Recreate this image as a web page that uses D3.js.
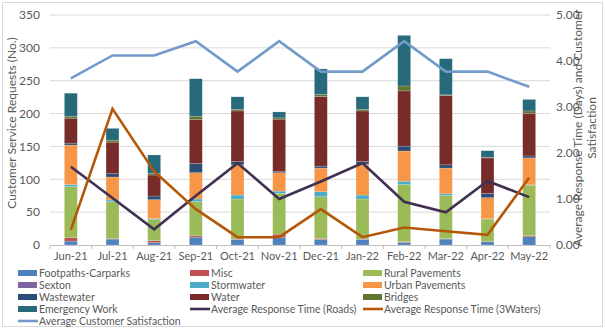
<!DOCTYPE html>
<html>
<head>
<meta charset="utf-8">
<script src="https://cdn.jsdelivr.net/npm/d3@7"></script>
<style>
  body { margin: 0; background: #fff; }
  svg text { font-family: Lato, Calibri, "Liberation Sans", Arial, sans-serif; fill: #595959; }
</style>
</head>
<body>
<svg id="chart"></svg>
<script>
// months along the bottom
const months = ['Jun-21', 'Jul-21', 'Aug-21', 'Sep-21', 'Oct-21', 'Nov-21', 'Dec-21', 'Jan-22', 'Feb-22', 'Mar-22', 'Apr-22', 'May-22'];

// request counts per category (stacked bars)
const footpaths = [6, 9, 3.5, 12, 8.5, 12, 8.5, 8.5, 4, 9, 5, 12.5];
const misc = [5, 1, 3, 2, 0.5, 4.5, 1.5, 0.5, 1, 0.5, 0.5, 1.5];
const rural = [78, 56, 32, 52, 61, 62, 63.5, 61, 87, 66, 34, 77];
const sexton = [0, 0, 0, 0, 0, 0, 0, 0, 0, 0, 0, 0];
const stormwater = [3, 2.5, 1.5, 4, 6, 3.5, 7.5, 6, 5, 2.5, 0.5, 0.5];
const urban = [60, 35, 29, 40, 46, 28, 36, 47, 46, 39, 32, 41];
const wastewater = [3, 5, 5.5, 14, 5, 1.5, 3, 4, 7.5, 5, 6.5, 3];
const water = [38, 48, 32, 67, 77, 80, 106, 77, 84, 105.5, 54, 65];
const bridges = [3, 3, 2.5, 5, 2.5, 2, 3, 2.5, 7.5, 1, 1, 3.5];
const emergency = [35, 18, 28, 57, 19, 9, 39, 19, 77, 55, 10, 17.5];

// right axis lines
const respRoads = [1.70, 1.02, 0.34, 1.07, 1.78, 1.00, 1.38, 1.78, 0.94, 0.71, 1.39, 1.04];
const resp3Waters = [0.33, 2.96, 1.60, 0.78, 0.17, 0.17, 0.78, 0.17, 0.38, 0.30, 0.22, 1.46];
const satisfaction = [3.62, 4.12, 4.12, 4.43, 3.77, 4.43, 3.77, 3.77, 4.43, 3.77, 3.77, 3.44];

const leftTicks = [0, 50, 100, 150, 200, 250, 300, 350];
const rightTicks = [0, 1, 2, 3, 4, 5];

const barSeries = [
    { name: 'Footpaths-Carparks', values: footpaths, color: '#4F81BD' },
    { name: 'Misc', values: misc, color: '#C0504D' },
    { name: 'Rural Pavements', values: rural, color: '#9BBB59' },
    { name: 'Sexton', values: sexton, color: '#8064A2' },
    { name: 'Stormwater', values: stormwater, color: '#4BACC6' },
    { name: 'Urban Pavements', values: urban, color: '#F79646' },
    { name: 'Wastewater', values: wastewater, color: '#2C4D75' },
    { name: 'Water', values: water, color: '#772C2A' },
    { name: 'Bridges', values: bridges, color: '#5F7530' },
    { name: 'Emergency Work', values: emergency, color: '#276A7C' }
];
const lineSeries = [
    { name: 'Average Response Time (Roads)', values: respRoads, color: '#403152' },
    { name: 'Average Response Time (3Waters)', values: resp3Waters, color: '#B65708' },
    { name: 'Average Customer Satisfaction', values: satisfaction, color: '#729ACA' }
];

const width = 605, height = 329;
const margin = { top: 15, right: 55, bottom: 84, left: 50 };

const svg = d3.select('#chart').attr('width', width).attr('height', height);

svg.append('rect')
    .attr('x', 2.5).attr('y', 2.5)
    .attr('width', width - 5).attr('height', height - 5)
    .attr('fill', '#fff').attr('stroke', '#D9D9D9');

const x = d3.scaleBand().domain(months).range([margin.left, width - margin.right]);
const y = d3.scaleLinear().domain([0, 350]).range([height - margin.bottom, margin.top]);
const y2 = d3.scaleLinear().domain([0, 5]).range([height - margin.bottom, margin.top]);

// gridlines
svg.append('g')
    .selectAll('line')
    .data(leftTicks.slice(1))
    .enter()
    .append('line')
    .attr('x1', margin.left).attr('x2', width - margin.right)
    .attr('y1', d => y(d)).attr('y2', d => y(d))
    .attr('stroke', '#D9D9D9');

// left axis
const yAxis = svg.append('g')
    .attr('transform', `translate(${margin.left},0)`)
    .call(d3.axisLeft(y).tickValues(leftTicks).tickSize(0).tickPadding(10));
yAxis.select('.domain').remove();
yAxis.selectAll('text').style('font-size', '12px');

// right axis
const y2Axis = svg.append('g')
    .attr('transform', `translate(${width - margin.right},0)`)
    .call(d3.axisRight(y2).tickValues(rightTicks).tickFormat(d3.format('.2f')).tickSize(0).tickPadding(6));
y2Axis.select('.domain').remove();
y2Axis.selectAll('text').style('font-size', '12px');

// bottom axis
const xAxis = svg.append('g')
    .attr('transform', `translate(0,${height - margin.bottom})`)
    .call(d3.axisBottom(x).tickSize(0).tickPadding(7));
xAxis.select('.domain').attr('stroke', '#BFBFBF');
xAxis.selectAll('text').style('font-size', '11px');
xAxis.selectAll('.sep')
    .data(d3.range(months.length + 1))
    .enter()
    .append('line')
    .attr('x1', i => margin.left + i * x.step())
    .attr('x2', i => margin.left + i * x.step())
    .attr('y1', 0).attr('y2', 4)
    .attr('stroke', '#BFBFBF');

// stacked bars
const table = months.map((m, i) => {
    const row = { month: m };
    barSeries.forEach(s => { row[s.name] = s.values[i]; });
    return row;
});
const stack = d3.stack().keys(barSeries.map(s => s.name));
const layers = stack(table);
const barW = x.bandwidth() * 0.31;

svg.append('g')
    .selectAll('g')
    .data(layers)
    .enter()
    .append('g')
    .attr('fill', (d, i) => barSeries[i].color)
    .selectAll('rect')
    .data(d => d)
    .enter()
    .append('rect')
    .attr('x', d => x(d.data.month) + (x.bandwidth() - barW) / 2)
    .attr('width', barW)
    .attr('y', d => y(d[1]))
    .attr('height', d => y(d[0]) - y(d[1]))
    .attr('stroke', 'rgba(255,255,255,0.35)')
    .attr('stroke-width', 0.5);

// lines
const line = d3.line()
    .x((d, i) => x(months[i]) + x.bandwidth() / 2)
    .y(d => y2(d));

svg.append('g')
    .selectAll('path')
    .data(lineSeries)
    .enter()
    .append('path')
    .attr('d', d => line(d.values))
    .attr('fill', 'none')
    .attr('stroke', d => d.color)
    .attr('stroke-width', 2.6)
    .attr('stroke-linejoin', 'miter');

// axis titles
svg.append('text')
    .attr('transform', 'translate(16,123) rotate(-90)')
    .attr('text-anchor', 'middle')
    .style('font-size', '12px')
    .text('Customer Service Requests (No.)');

const rt = svg.append('text')
    .attr('transform', 'translate(582,128) rotate(-90)')
    .attr('text-anchor', 'middle')
    .style('font-size', '12px');
rt.append('tspan').attr('x', 0).attr('dy', 0).text('Average Response Time (Days) and Customer');
rt.append('tspan').attr('x', 0).attr('dy', 14).text('Satisfaction');

// legend
const legendItems = barSeries.map(s => ({ name: s.name, color: s.color, type: 'bar' }))
    .concat(lineSeries.map(s => ({ name: s.name, color: s.color, type: 'line' })));
const colX = [18, 190, 363];
const rowY = [273, 285, 297, 309, 321];

const legend = svg.append('g')
    .selectAll('g')
    .data(legendItems)
    .enter()
    .append('g')
    .attr('transform', (d, i) => `translate(${colX[i % 3]},${rowY[Math.floor(i / 3)]})`);

legend.filter(d => d.type === 'bar')
    .append('rect')
    .attr('x', 0).attr('y', -3)
    .attr('width', 19).attr('height', 6)
    .attr('fill', d => d.color);
legend.filter(d => d.type === 'line')
    .append('line')
    .attr('x1', 0).attr('x2', 20)
    .attr('y1', 0).attr('y2', 0)
    .attr('stroke', d => d.color)
    .attr('stroke-width', 2.6);
legend.append('text')
    .attr('x', 21)
    .attr('dy', '0.35em')
    .style('font-size', '10.5px')
    .text(d => d.name);
</script>
</body>
</html>
